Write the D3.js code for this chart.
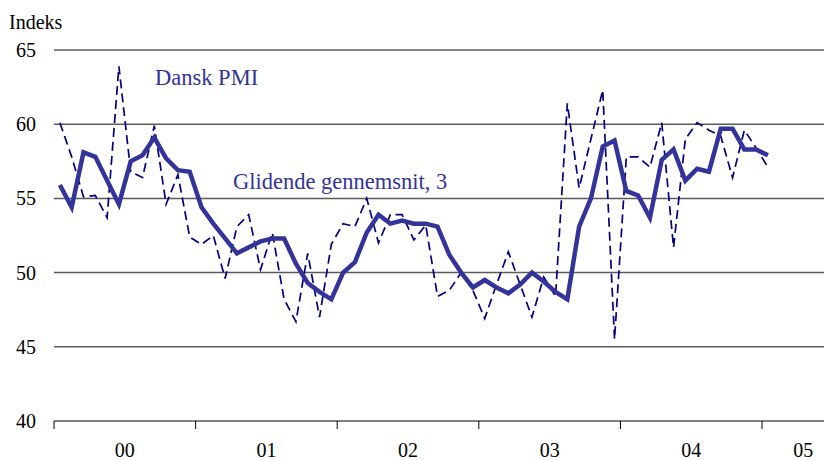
<!DOCTYPE html>
<html>
<head>
<meta charset="utf-8">
<script src="https://cdn.jsdelivr.net/npm/d3@7"></script>
<style>
body { margin: 0; background: #fff; }
text { font-family: "Liberation Serif", "DejaVu Serif", serif; }
</style>
</head>
<body>
<div id="graph"></div>
<script>
// monthly values, Jan 2000 - Jan 2005
var pmi = [
  60.1, 57.8, 55.1, 55.2, 53.7, 63.9, 56.8, 56.4, 59.9, 54.6, 56.6, 52.4,
  51.9, 52.5, 49.6, 53.1, 53.9, 50.2, 52.7, 48.2, 46.7, 51.3, 47.0, 51.9,
  53.3, 53.1, 55.0, 52.0, 53.9, 53.9, 52.2, 53.2, 48.4, 48.8, 50.0, 48.8,
  46.9, 49.2, 51.4, 49.2, 47.0, 49.7, 48.4, 61.4, 55.7, 59.0, 62.3, 45.5,
  57.8, 57.8, 57.1, 60.1, 51.7, 59.0, 60.1, 59.6, 59.2, 56.4, 59.6, 58.4,
  57.1
];
var avg3 = [
  55.9, 54.4, 58.1, 57.8, 56.2, 54.6, 57.5, 57.9, 59.1, 57.7, 56.9, 56.8,
  54.4, 53.3, 52.3, 51.3, 51.7, 52.1, 52.3, 52.3, 50.6, 49.3, 48.7, 48.2,
  50.0, 50.7, 52.7, 53.9, 53.3, 53.5, 53.3, 53.3, 53.1, 51.2, 50.0, 49.0,
  49.5, 49.0, 48.6, 49.2, 50.0, 49.4, 48.7, 48.2, 53.1, 55.0, 58.5, 58.9,
  55.5, 55.2, 53.7, 57.6, 58.3, 56.2, 57.0, 56.8, 59.7, 59.7, 58.3, 58.3,
  57.9
];
var yTicks = [40, 45, 50, 55, 60, 65];
var yearLabels = ["00", "01", "02", "03", "04", "05"];
var yearLabelPos = [6, 18, 30, 42, 54, 63.5]; // in months
var yearTickPos = [0, 12, 24, 36, 48, 60];

var width = 824, height = 460;

var svg = d3.select("#graph").append("svg")
  .attr("width", width)
  .attr("height", height);

// month index -> x, value -> y
var x = d3.scaleLinear().domain([0, 65.25]).range([54, 824]);
var y = d3.scaleLinear().domain([40, 65]).range([421, 50]);

// gridlines
svg.selectAll(".grid")
  .data(yTicks.slice(1))
  .enter().append("line")
  .attr("x1", x(0)).attr("x2", x(65.25))
  .attr("y1", function(d) { return y(d); })
  .attr("y2", function(d) { return y(d); })
  .attr("stroke", "#5a5a5a")
  .attr("stroke-width", 1.5);

// y labels
svg.selectAll(".ylab")
  .data(yTicks)
  .enter().append("text")
  .attr("x", 36)
  .attr("y", function(d) { return y(d) + 7; })
  .attr("text-anchor", "end")
  .attr("font-size", 20)
  .attr("fill", "#000")
  .text(function(d) { return d; });

svg.append("text")
  .attr("x", 9).attr("y", 29)
  .attr("font-size", 20)
  .text("Indeks");

// x axis
svg.append("line")
  .attr("x1", x(0)).attr("x2", x(65.25))
  .attr("y1", y(40)).attr("y2", y(40))
  .attr("stroke", "#000").attr("stroke-width", 1.2);

svg.selectAll(".xtick")
  .data(yearTickPos)
  .enter().append("line")
  .attr("x1", function(d) { return x(d); })
  .attr("x2", function(d) { return x(d); })
  .attr("y1", y(40)).attr("y2", y(40) + 8)
  .attr("stroke", "#000").attr("stroke-width", 1);

svg.selectAll(".xlab")
  .data(yearLabels)
  .enter().append("text")
  .attr("x", function(d, i) { return x(yearLabelPos[i]); })
  .attr("y", 457)
  .attr("text-anchor", "middle")
  .attr("font-size", 20)
  .text(function(d) { return d; });

var line = d3.line()
  .x(function(d, i) { return x(i + 0.5); })
  .y(function(d) { return y(d); });

svg.append("path")
  .datum(pmi)
  .attr("d", line)
  .attr("fill", "none")
  .attr("stroke", "#000080")
  .attr("stroke-width", 1.7)
  .attr("stroke-dasharray", "9,5");

svg.append("path")
  .datum(avg3)
  .attr("d", line)
  .attr("fill", "none")
  .attr("stroke", "#333399")
  .attr("stroke-width", 4.5)
  .attr("stroke-linejoin", "miter");

svg.append("text")
  .attr("x", 155).attr("y", 85)
  .attr("font-size", 22.5)
  .attr("fill", "#333399")
  .text("Dansk PMI");

svg.append("text")
  .attr("x", 233).attr("y", 189)
  .attr("font-size", 22.5)
  .attr("fill", "#333399")
  .text("Glidende gennemsnit, 3");
</script>
</body>
</html>
